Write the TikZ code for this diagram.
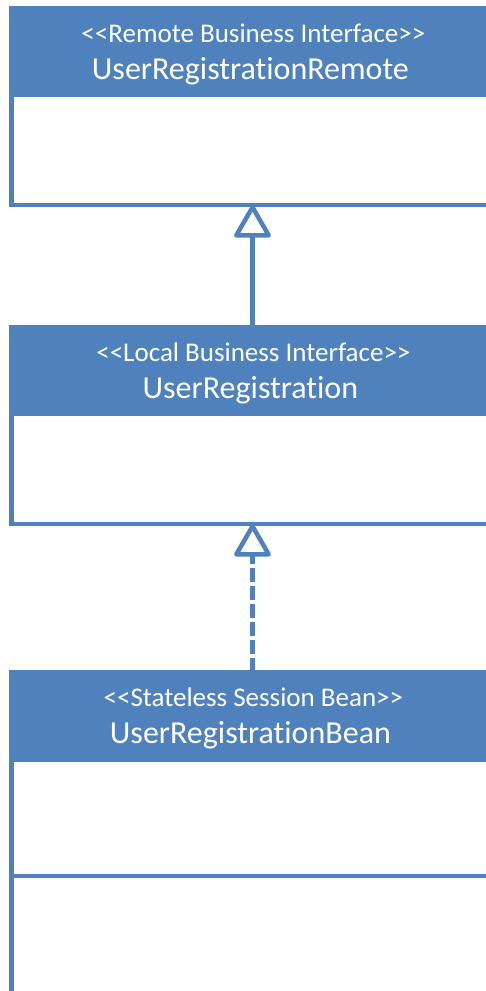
\documentclass[tikz,border=0pt]{standalone}
\usepackage{fontspec}
\setmainfont{Carlito}[Ligatures={NoCommon}]
\usetikzlibrary{arrows.meta,calc}
\definecolor{ublue}{HTML}{4F81BD}
\tikzset{
  hdr/.style={draw=ublue, fill=ublue, line width=4.75pt, rectangle, inner sep=0pt, outer sep=0pt,
    minimum width=486pt, minimum height=86.2pt, anchor=north west},
  bodybox/.style={draw=ublue, fill=white, line width=4.75pt, rectangle, inner sep=0pt, outer sep=0pt,
    minimum width=486pt, anchor=north west},
  stereo/.style={text=white, font=\fontsize{27}{30}\selectfont, anchor=base, inner sep=0pt},
  cname/.style={text=white, font=\fontsize{32}{36}\selectfont, anchor=base, inner sep=0pt},
  gen/.style={draw=ublue, line width=4.5pt,
    -{Triangle[open, length=35pt, width=39pt, line join=round, line width=4.5pt]}},
  real/.style={gen, dash pattern=on 14pt off 4pt}
}
\begin{document}
\begin{tikzpicture}[x=1pt,y=-1pt]
\useasboundingbox (0,0) rectangle (486,991);
\clip (0,0) rectangle (486,991);
% class 1
\node[hdr] (h1) at (11.4,8.4) {};
\node[bodybox, minimum height=110.4pt] (b1) at (h1.south west) {};
\node[stereo] (s1) at ($(h1.north)+(-1,33.6)$) {<{}<Remote Business Interface>{}>};
\node[cname] (n1) at ($(h1.north)+(-4,70.6)$) {UserRegistrationRemote};
% class 2
\node[hdr] (h2) at (11.4,327.4) {};
\node[bodybox, minimum height=110.4pt] (b2) at (h2.south west) {};
\node[stereo] (s2) at ($(h2.north)+(-1,33.6)$) {<{}<Local Business Interface>{}>};
\node[cname] (n2) at ($(h2.north)+(-4,70.6)$) {UserRegistration};
% class 3
\node[hdr, minimum height=87.2pt] (h3) at (11.4,672.4) {};
\node[bodybox, minimum height=116.4pt] (b3) at (h3.south west) {};
\node[bodybox, minimum height=130pt] (c3) at (b3.south west) {};
\node[stereo] (s3) at ($(h3.north)+(-1,33.6)$) {<{}<Stateless Session Bean>{}>};
\node[cname] (n3) at ($(h3.north)+(-4,70.6)$) {UserRegistrationBean};
% connectors
\coordinate (t1) at (252.5,205);
\coordinate (t2) at (252.5,524);
\draw[gen] (h2.north -| t1) -- (t1);
\draw[real] (h3.north -| t2) -- (t2);
\end{tikzpicture}
\end{document}
